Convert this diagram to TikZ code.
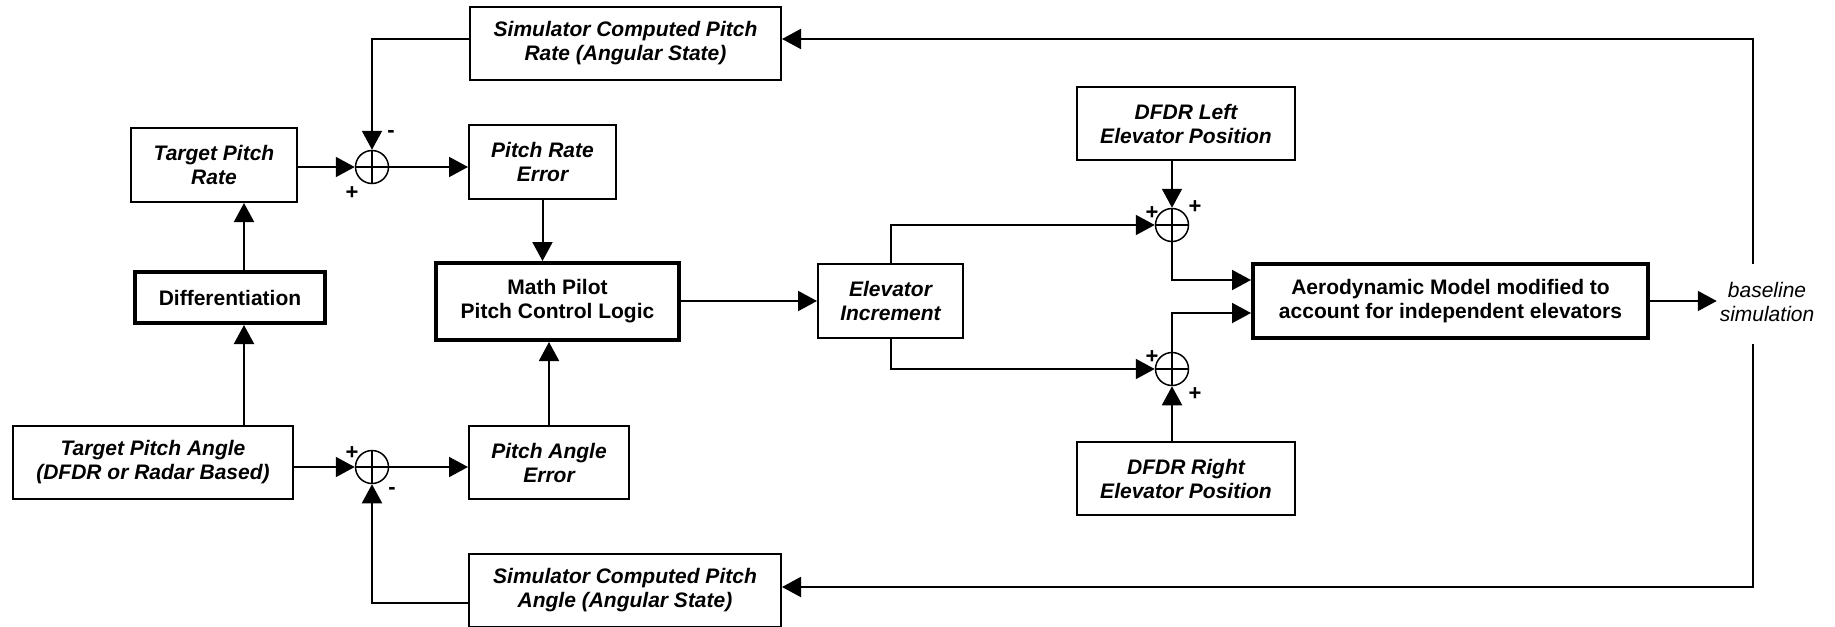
\documentclass[tikz,border=0pt]{standalone}
\usepackage{fontspec}
\setmainfont{Liberation Sans}
\usetikzlibrary{arrows.meta,calc}
\begin{document}
\begin{tikzpicture}[x=1pt,y=-1pt, line width=2pt,
  box/.style={draw, line width=2pt, inner sep=0pt, align=center, font=\fontsize{21}{24}\selectfont\bfseries\itshape},
  tbox/.style={draw, line width=4pt, inner sep=0pt, align=center, font=\fontsize{21}{24}\selectfont\bfseries},
  sumc/.style={draw, circle, minimum size=33pt, inner sep=0pt, line width=1.5pt,
    path picture={\draw[line width=1.5pt] (path picture bounding box.north) -- (path picture bounding box.south)
      (path picture bounding box.west) -- (path picture bounding box.east);}},
  sgn/.style={font=\fontsize{22}{22}\selectfont\bfseries, inner sep=0pt},
  arr/.style={-{Triangle[length=19pt,width=20pt]}, line width=2pt}
]
\useasboundingbox (0,0) rectangle (1835,626);

% boxes
\node[box, minimum width=311pt, minimum height=73pt] (simrate) at (625.5,43.5) {Simulator Computed Pitch\\Rate (Angular State)};
\node[box, minimum width=166pt, minimum height=74pt] (tpr) at (214,165) {Target Pitch\\Rate};
\node[box, minimum width=147pt, minimum height=74pt] (pre) at (542.5,162) {Pitch Rate\\Error};
\node[tbox, minimum width=190pt, minimum height=51pt] (diff) at (230,297.5) {Differentiation};
\node[tbox, minimum width=243pt, minimum height=77pt] (mp) at (557.5,301.5) {Math Pilot\\Pitch Control Logic};
\node[box, minimum width=280pt, minimum height=73pt] (tpa) at (153,462.5) {Target Pitch Angle\\(DFDR or Radar Based)};
\node[box, minimum width=160pt, minimum height=73pt] (pae) at (549,462.5) {Pitch Angle\\Error};
\node[box, minimum width=312pt, minimum height=73pt] (simang) at (625,590.5) {Simulator Computed Pitch\\Angle (Angular State)};
\node[box, minimum width=145pt, minimum height=74pt] (ei) at (890.5,301) {Elevator\\Increment};
\node[box, minimum width=218pt, minimum height=73pt] (dl) at (1186,123.5) {DFDR Left\\Elevator Position};
\node[box, minimum width=218pt, minimum height=73pt] (dr) at (1186,478.5) {DFDR Right\\Elevator Position};
\node[tbox, minimum width=395pt, minimum height=74pt] (aero) at (1450.5,301) {Aerodynamic Model modified to\\account for independent elevators};
\node[inner sep=2pt, align=center, font=\fontsize{21}{24}\selectfont\itshape] (bl) at (1767,302) {baseline\\simulation};

% summing junctions
\node[sumc] (s1) at (372,167) {};
\node[sumc] (s2) at (372,467) {};
\node[sumc] (s3) at (1172,225) {};
\node[sumc] (s4) at (1172,369) {};

% signs
\node[sgn] (s1m) at (391,134) {-};
\node[sgn] (s1p) at (352,193) {+};
\node[sgn] (s2p) at (352,453) {+};
\node[sgn] (s2m) at (392,491) {-};
\node[sgn] (s3pl) at (1152,213) {+};
\node[sgn] (s3pr) at (1195,207) {+};
\node[sgn] (s4pl) at (1152,357) {+};
\node[sgn] (s4pr) at (1195,394) {+};

% helper coordinates
\coordinate (vx) at (244,0);
\coordinate (fbt) at (1753,264);
\coordinate (fbb) at (1753,344);
\coordinate (c1) at (1753,39);
\coordinate (c2) at (1753,587);

% connectors
\draw[arr] (tpa.north -| vx) -- (diff.south -| vx);
\draw[arr] (diff.north -| vx) -- (tpr.south -| vx);
\draw[arr] (tpr.east |- s1) -- (s1.west);
\draw[arr] (simrate.west |- c1) -| (s1.north);
\draw[arr] (s1.east) -- (pre.west |- s1);
\draw[arr] (pre.south) -- (pre.south |- mp.north);
\draw[arr] (pae.north) -- (pae.north |- mp.south);
\draw[arr] (tpa.east |- s2) -- (s2.west);
\draw[arr] (s2.east) -- (pae.west |- s2);
\draw[arr] ([yshift=-12.5pt]simang.west) -| (s2.south);
\draw[arr] (mp.east |- ei) -- (ei.west);
\draw[arr] (ei.north) |- (s3.west);
\draw[arr] (ei.south) |- (s4.west);
\draw[arr] (dl.south -| s3) -- (s3.north);
\draw[arr] (dr.north -| s4) -- (s4.south);
\draw[arr] (s3.south) |- ([yshift=21pt]aero.west);
\draw[arr] (s4.north) |- ([yshift=-12pt]aero.west);
\draw[arr] (aero.east) -- (aero.east -| bl.west);
\draw[arr] (fbt) -- (c1) -- (c1 -| simrate.east);
\draw[arr] (fbb) -- (c2) -- (c2 -| simang.east);
\end{tikzpicture}
\end{document}
